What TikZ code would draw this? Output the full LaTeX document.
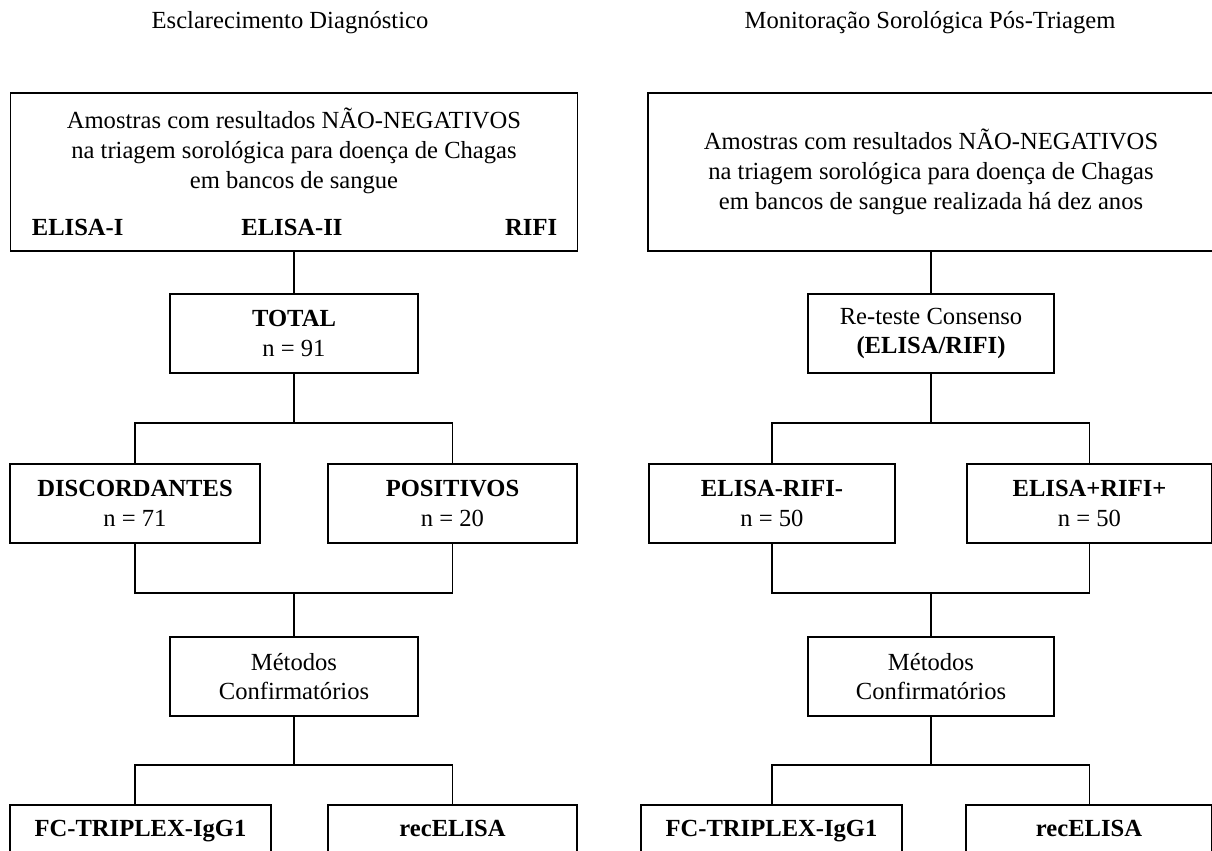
\documentclass[tikz,border=0pt]{standalone}
\usepackage{fontspec}
\setmainfont{Liberation Serif}
\newlength{\px}
\setlength{\px}{0.02cm}
\newcommand{\diagfont}{\fontsize{14}{17}\selectfont}
\tikzset{
  caixa/.style={draw, line width=1pt, align=center, inner sep=0pt, font=\diagfont},
  texto/.style={align=center, inner sep=0pt, font=\diagfont},
  negrito/.style={inner sep=0pt, font=\diagfont\bfseries},
}

\begin{document}
\begin{tikzpicture}[x=0.02cm, y=-0.02cm, line width=1pt]
\useasboundingbox (0,0) rectangle (1212,850);

% Titles
\node[texto] (titL) at (290,23) {Esclarecimento Diagnóstico};
\node[texto] (titR) at (930,23) {Monitoração Sorológica Pós-Triagem};

% Left column: screening samples
\node[caixa, minimum width=567\px, minimum height=158\px] (topL) at (294,172) {};
\node[texto] (txtL) at (294,151) {Amostras com resultados NÃO-NEGATIVOS\\na triagem sorológica para doença de Chagas\\em bancos de sangue};
\node[negrito, anchor=west] (elisaI) at (31,227) {ELISA-I};
\node[negrito] (elisaII) at (292,227) {ELISA-II};
\node[negrito, anchor=east] (rifi) at (558,227) {RIFI};

% Left column: groups
\node[caixa, minimum width=248\px, minimum height=79\px] (totL) at (294,333.5) {\textbf{TOTAL}\\n = 91};
\node[caixa, minimum width=250\px, minimum height=79\px] (discL) at (135,503.5) {\textbf{DISCORDANTES}\\n = 71};
\node[caixa, minimum width=249\px, minimum height=79\px] (posL) at (452.5,503.5) {\textbf{POSITIVOS}\\n = 20};
\node[caixa, minimum width=248\px, minimum height=79\px] (metL) at (294,676.5) {Métodos\\Confirmatórios};
\node[caixa, minimum width=261\px, minimum height=52\px] (fcL) at (140.5,831) {\strut\textbf{FC-TRIPLEX-IgG1}};
\node[caixa, minimum width=249\px, minimum height=52\px] (recL) at (452.5,831) {\strut\textbf{recELISA}};

% Right column: follow-up samples
\node[caixa, minimum width=566\px, minimum height=158\px] (topR) at (931,172) {Amostras com resultados NÃO-NEGATIVOS\\na triagem sorológica para doença de Chagas\\em bancos de sangue realizada há dez anos};
\node[caixa, minimum width=246\px, minimum height=79\px] (retR) at (931,333.5) {Re-teste Consenso\\\textbf{(ELISA/RIFI)}};
\node[caixa, minimum width=246\px, minimum height=79\px] (negR) at (772,503.5) {\textbf{ELISA-RIFI-}\\n = 50};
\node[caixa, minimum width=245\px, minimum height=79\px] (posR) at (1089.5,503.5) {\textbf{ELISA+RIFI+}\\n = 50};
\node[caixa, minimum width=246\px, minimum height=79\px] (metR) at (931,676.5) {Métodos\\Confirmatórios};
\node[caixa, minimum width=261\px, minimum height=52\px] (fcR) at (771.5,831) {\strut\textbf{FC-TRIPLEX-IgG1}};
\node[caixa, minimum width=246\px, minimum height=52\px] (recR) at (1089,831) {\strut\textbf{recELISA}};

% Branch points
\coordinate (brL1) at (294,423);
\coordinate (brL2) at (294,593);
\coordinate (brL3) at (294,765);
\coordinate (brR1) at (931,423);
\coordinate (brR2) at (931,593);
\coordinate (brR3) at (931,765);

% Left connectors
\draw (topL.south) -- (totL.north);
\draw (totL.south) -- (brL1);
\draw (discL.north) |- (brL1) -| (posL.north);
\draw (discL.south) |- (brL2) -| (posL.south);
\draw (brL2) -- (metL.north);
\draw (metL.south) -- (brL3);
\draw (fcL.north -| discL.south) |- (brL3) -| (recL.north);

% Right connectors
\draw (topR.south) -- (retR.north);
\draw (retR.south) -- (brR1);
\draw (negR.north) |- (brR1) -| (posR.north);
\draw (negR.south) |- (brR2) -| (posR.south);
\draw (brR2) -- (metR.north);
\draw (metR.south) -- (brR3);
\draw (fcR.north -| negR.south) |- (brR3) -| (recR.north -| posR.south);

\end{tikzpicture}
\end{document}
